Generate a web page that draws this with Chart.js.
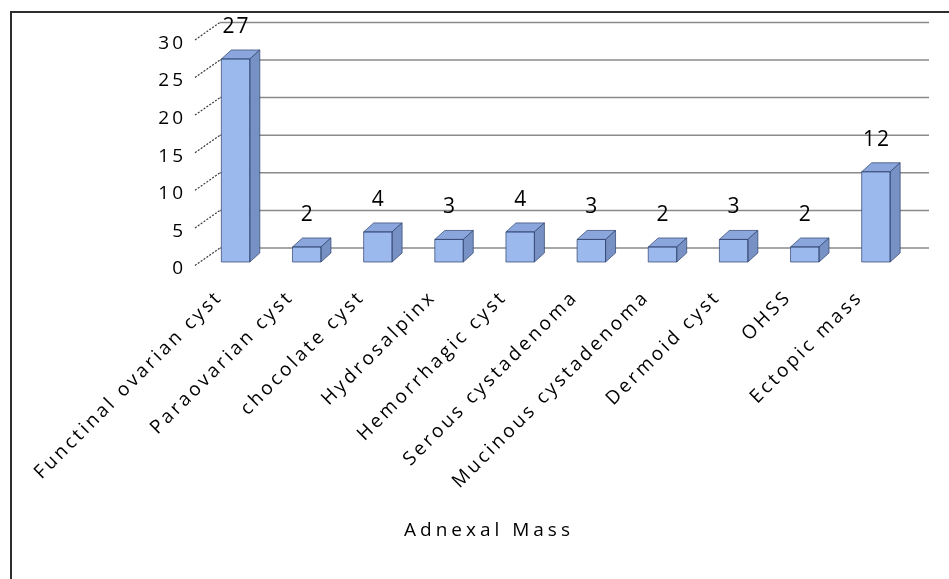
<!DOCTYPE html>
<html>
<head>
<meta charset="utf-8">
<script src="https://cdn.jsdelivr.net/npm/chart.js@4.4.1/dist/chart.umd.min.js"></script>
<style>
  html, body { margin: 0; padding: 0; background: #fff; }
  canvas { display: block; }
</style>
</head>
<body>
<canvas id="grafico" width="949" height="579"></canvas>
<script>
// ---- Datos ----
const categorias = ['Functinal ovarian cyst', 'Paraovarian cyst', 'chocolate cyst', 'Hydrosalpinx',
  'Hemorrhagic cyst', 'Serous cystadenoma', 'Mucinous cystadenoma', 'Dermoid cyst', 'OHSS', 'Ectopic mass'];
const valores = [27, 2, 4, 3, 4, 3, 2, 3, 2, 12];
const ejeYMin = 0;
const ejeYMax = 30;
const ejeYPaso = 5;
const tituloEjeX = 'Adnexal Mass';

const FUENTE = "'Open Sans', 'Noto Sans', sans-serif";
const PROF = { dx: 10, dy: -9 };      // profundidad de las barras
const PARED = { dx: 20, dy: -14 };    // desplazamiento de la pared del fondo

// ---- Efecto 3D estilo Excel ----
const efecto3d = {
  id: 'efecto3d',
  beforeUpdate(chart) { chart.ctx.letterSpacing = '3px'; },
  beforeDraw(chart) {
    const ctx = chart.ctx;
    ctx.letterSpacing = '3px';
    // marco
    ctx.save();
    ctx.strokeStyle = '#2e2e2e';
    ctx.lineWidth = 2;
    ctx.beginPath();
    ctx.moveTo(11, 579);
    ctx.lineTo(11, 12);
    ctx.lineTo(949, 12);
    ctx.stroke();
    ctx.restore();
  },
  beforeDatasetsDraw(chart) {
    const ctx = chart.ctx, y = chart.scales.y, area = chart.chartArea;
    ctx.save();
    y.ticks.forEach(t => {
      const py = y.getPixelForValue(t.value);
      // linea de cuadricula en la pared del fondo
      ctx.strokeStyle = '#8a8a8a';
      ctx.lineWidth = 1.5;
      ctx.setLineDash([]);
      ctx.beginPath();
      ctx.moveTo(area.left + PARED.dx, py + PARED.dy);
      ctx.lineTo(area.right + 17.5, py + PARED.dy);
      ctx.stroke();
      // marca diagonal del eje
      ctx.strokeStyle = '#3a3a3a';
      ctx.lineWidth = 1.2;
      ctx.setLineDash([2, 1.5]);
      ctx.beginPath();
      ctx.moveTo(area.left - 5, py + 3.5);
      ctx.lineTo(area.left + PARED.dx, py + PARED.dy);
      ctx.stroke();
    });
    ctx.restore();
  },
  afterDatasetsDraw(chart) {
    const ctx = chart.ctx;
    const meta = chart.getDatasetMeta(0);
    ctx.save();
    ctx.lineJoin = 'round';
    meta.data.forEach((bar, i) => {
      const l = bar.x - bar.width / 2, r = bar.x + bar.width / 2;
      const top = bar.y, base = bar.base;
      // cara superior
      ctx.fillStyle = '#8aa6dc';
      ctx.beginPath();
      ctx.moveTo(l, top); ctx.lineTo(r, top);
      ctx.lineTo(r + PROF.dx, top + PROF.dy); ctx.lineTo(l + PROF.dx, top + PROF.dy);
      ctx.closePath(); ctx.fill();
      ctx.strokeStyle = 'rgba(45,65,110,0.7)'; ctx.lineWidth = 1; ctx.stroke();
      // cara lateral
      ctx.fillStyle = '#7791c4';
      ctx.beginPath();
      ctx.moveTo(r, top); ctx.lineTo(r + PROF.dx, top + PROF.dy);
      ctx.lineTo(r + PROF.dx, base + PROF.dy); ctx.lineTo(r, base);
      ctx.closePath(); ctx.fill(); ctx.stroke();
      // contorno frontal
      ctx.strokeRect(l, top, r - l, base - top);
      // etiqueta de valor
      ctx.fillStyle = '#000';
      ctx.font = '21px ' + FUENTE;
      ctx.letterSpacing = '2px';
      ctx.textAlign = 'center';
      ctx.textBaseline = 'middle';
      ctx.fillText(String(valores[i]), bar.x + 1, top - 32);
    });
    // titulo del eje X
    ctx.font = '19px ' + FUENTE;
    ctx.letterSpacing = '4px';
    ctx.fillText(tituloEjeX, 489, 531);
    ctx.restore();
  }
};

new Chart(document.getElementById('grafico'), {
  type: 'bar',
  data: {
    labels: categorias,
    datasets: [{
      data: valores,
      backgroundColor: '#9cb9ee',
      borderWidth: 0,
      barPercentage: 0.4,
      categoryPercentage: 1
    }]
  },
  options: {
    responsive: false,
    devicePixelRatio: 1,
    animation: false,
    layout: { autoPadding: false, padding: { top: 36.4, right: 37.5, bottom: 0, left: 0 } },
    plugins: { legend: { display: false }, tooltip: { enabled: false } },
    scales: {
      x: {
        grid: { display: false, drawTicks: false },
        border: { display: false },
        ticks: { color: '#000', font: { family: FUENTE, size: 19 }, minRotation: 45, maxRotation: 45, autoSkip: false, padding: 24, labelOffset: -16 },
        afterFit(s) { s.height = 317; }
      },
      y: {
        min: ejeYMin, max: ejeYMax,
        grid: { display: false, drawTicks: false },
        border: { display: false },
        ticks: { stepSize: ejeYPaso, color: '#000', font: { family: FUENTE, size: 19 }, padding: 14, labelOffset: 7 },
        afterFit(s) { s.width = 200; }
      }
    }
  },
  plugins: [efecto3d]
});
</script>
</body>
</html>
